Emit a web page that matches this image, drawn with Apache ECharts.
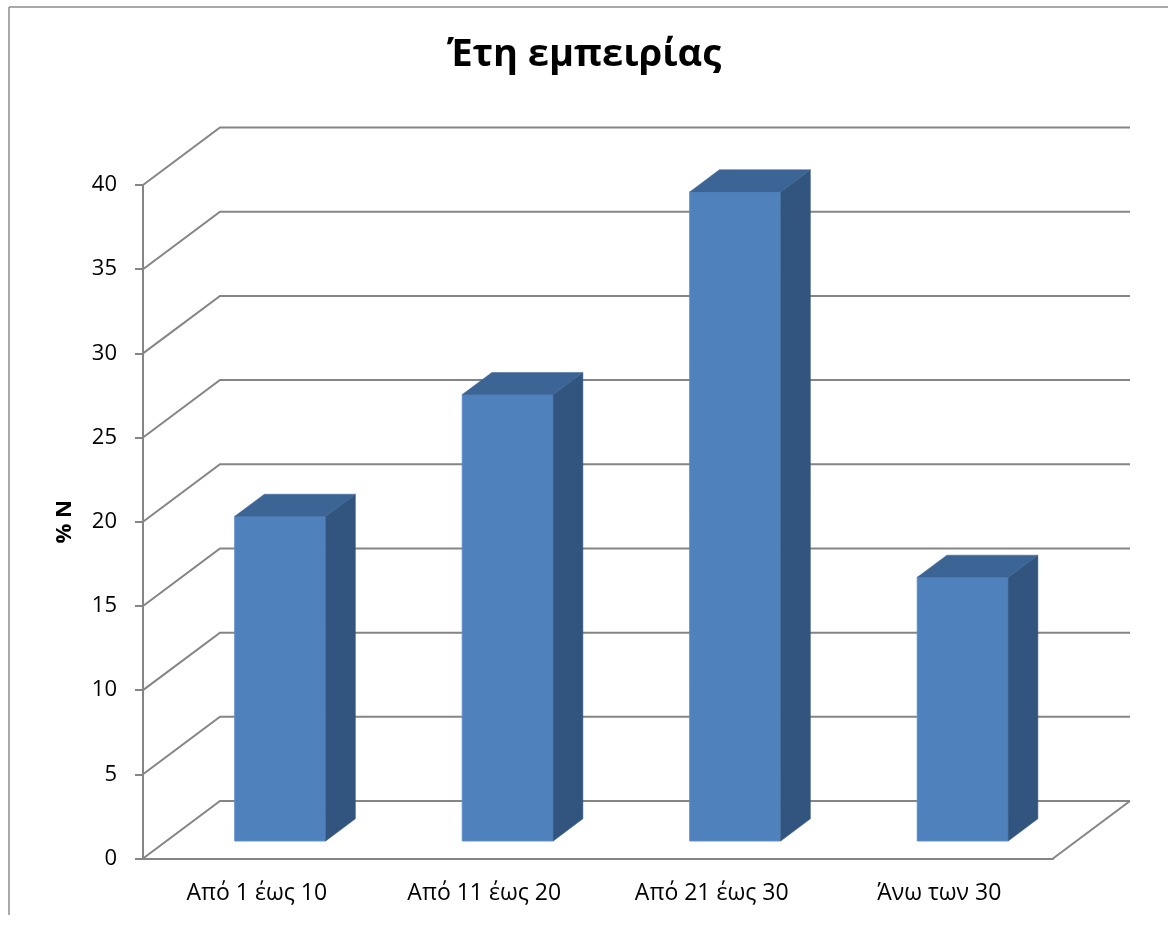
<!DOCTYPE html>
<html>
<head>
<meta charset="utf-8">
<title>Έτη εμπειρίας</title>
<script src="https://cdn.jsdelivr.net/npm/echarts@6/dist/echarts.min.js"></script>
<style>
  html, body { margin: 0; padding: 0; background: #ffffff; }
  #chart { width: 1168px; height: 926px; }
</style>
</head>
<body>
<div id="chart"></div>
<script>
// Years of experience, share of respondents (% N)
const categories = ['Από 1 έως 10', 'Από 11 έως 20', 'Από 21 έως 30', 'Άνω των 30'];
const percentN = [19.28, 26.51, 38.55, 15.66];
const yTicks = [0, 5, 10, 15, 20, 25, 30, 35, 40];

// Oblique depth of the 3D box (pixels from the front plane to the back wall)
const DEPTH_X = 77;
const DEPTH_Y = -57.5;
// Bar placement inside that depth (fractions of the full depth)
const BAR_GAP = 0.305;
const BAR_DEPTH = 0.385;
const BAR_WIDTH = 0.4;

const GRID_COLOR = '#858585';
const FONT = "'Open Sans', 'Noto Sans', sans-serif";

const chart = echarts.init(document.getElementById('chart'), null, { renderer: 'canvas' });

// Left wall diagonals + back wall horizontals for each tick, plus the floor's right edge
function renderWalls(params, api) {
  const cs = params.coordSys;
  const v = api.value(1);
  const y = api.coord([0, v])[1];
  const x0 = cs.x;
  const x1 = cs.x + cs.width;
  const style = { stroke: GRID_COLOR, lineWidth: 2, fill: null };
  const children = [
    { type: 'polyline', shape: { points: [[x0, y], [x0 + DEPTH_X, y + DEPTH_Y], [x1 + DEPTH_X, y + DEPTH_Y]] }, style: style }
  ];
  if (v === yTicks[0]) {
    children.push({ type: 'line', shape: { x1: x1, y1: y, x2: x1 + DEPTH_X, y2: y + DEPTH_Y }, style: style });
  }
  return { type: 'group', children: children };
}

// Box-shaped bar: front face, right side and top
function renderBar(params, api) {
  const i = api.value(0);
  const v = api.value(1);
  const base = api.coord([i, 0]);
  const top = api.coord([i, v]);
  const band = api.size([1, 0])[0];
  const w = band * BAR_WIDTH;
  const fx = DEPTH_X * BAR_GAP, fy = DEPTH_Y * BAR_GAP;
  const bx = DEPTH_X * BAR_DEPTH, by = DEPTH_Y * BAR_DEPTH;
  const xl = base[0] - w / 2 + fx;
  const xr = xl + w;
  const yb = base[1] + fy;
  const yt = top[1] + fy;
  return {
    type: 'group',
    children: [
      { type: 'polygon', shape: { points: [[xl, yb], [xr, yb], [xr, yt], [xl, yt]] },
        style: { fill: '#4F81BD', stroke: '#5C8CC6', lineWidth: 1 } },
      { type: 'polygon', shape: { points: [[xr, yb], [xr, yt], [xr + bx, yt + by], [xr + bx, yb + by]] },
        style: { fill: '#32557F', stroke: '#32557F', lineWidth: 0.5 } },
      { type: 'polygon', shape: { points: [[xl, yt], [xr, yt], [xr + bx, yt + by], [xl + bx, yt + by]] },
        style: { fill: '#3C6595', stroke: '#3C6595', lineWidth: 0.5 } }
    ]
  };
}

const option = {
  backgroundColor: '#ffffff',
  animation: false,
  title: {
    text: 'Έτη εμπειρίας',
    left: 'center',
    top: 31,
    textStyle: { fontFamily: FONT, fontWeight: 'bold', fontSize: 38, color: '#000000' }
  },
  graphic: [
    { type: 'line', shape: { x1: 9, y1: 7, x2: 1168, y2: 7 }, style: { stroke: '#8c8c8c', lineWidth: 1.5 } },
    { type: 'line', shape: { x1: 9, y1: 7, x2: 9, y2: 915 }, style: { stroke: '#8c8c8c', lineWidth: 1.5 } }
  ],
  grid: { left: 143, right: 115, top: 185, bottom: 67.5, containLabel: false },
  xAxis: {
    type: 'category',
    data: categories,
    axisLine: { show: true, lineStyle: { color: GRID_COLOR, width: 2 } },
    axisTick: { show: false },
    axisLabel: { fontFamily: FONT, fontSize: 23, color: '#000000', margin: 23 },
    splitLine: { show: false }
  },
  yAxis: {
    type: 'value',
    min: yTicks[0],
    max: yTicks[yTicks.length - 1],
    interval: yTicks[1] - yTicks[0],
    name: '% N',
    nameLocation: 'middle',
    nameRotate: 90,
    nameGap: 67,
    nameTextStyle: { fontFamily: FONT, fontWeight: 'bold', fontSize: 22, color: '#000000' },
    axisLine: { show: true, lineStyle: { color: GRID_COLOR, width: 2 } },
    axisTick: { show: true, length: 8, lineStyle: { color: GRID_COLOR, width: 2 } },
    axisLabel: { fontFamily: FONT, fontSize: 22, color: '#000000', margin: 26 },
    splitLine: { show: false }
  },
  series: [
    {
      type: 'custom',
      name: 'walls',
      clip: false,
      silent: true,
      z: 1,
      renderItem: renderWalls,
      data: yTicks.map(function (t) { return [0, t]; })
    },
    {
      type: 'custom',
      name: '% N',
      clip: false,
      z: 2,
      renderItem: renderBar,
      data: percentN.map(function (v, i) { return [i, v]; })
    }
  ]
};

chart.setOption(option);
</script>
</body>
</html>
